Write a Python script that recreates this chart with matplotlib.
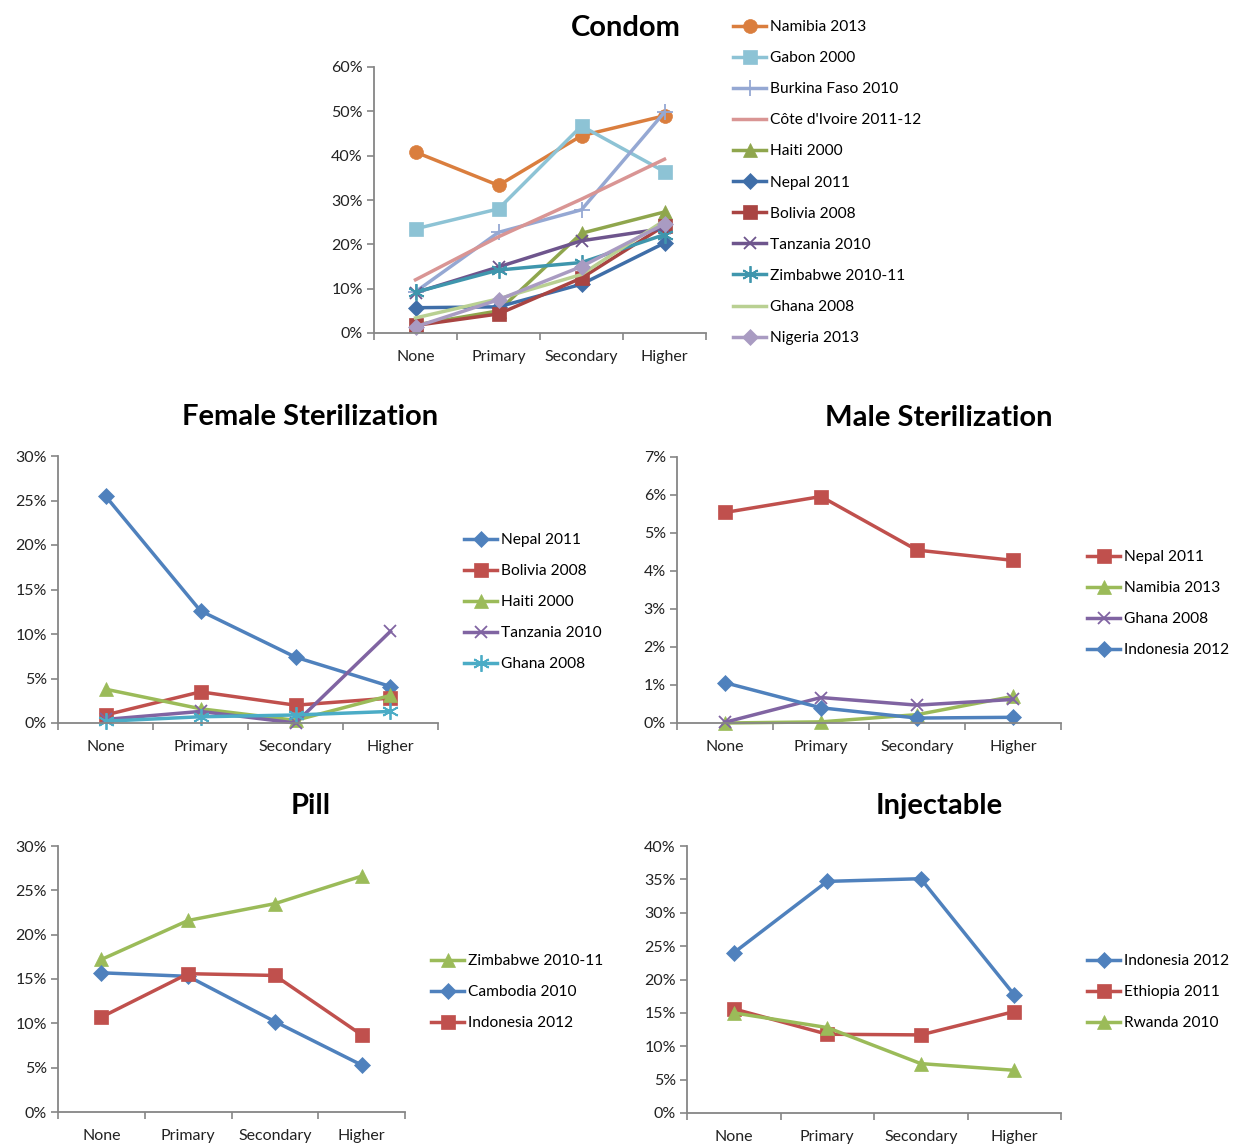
import matplotlib
matplotlib.use("Agg")
import matplotlib.pyplot as plt
from matplotlib.ticker import FuncFormatter, FixedLocator

plt.rcParams['font.family'] = ['Lato', 'DejaVu Sans']

categories = ["None", "Primary", "Secondary", "Higher"]

# Condom
condom_labels = ["Namibia 2013", "Gabon 2000", "Burkina Faso 2010", "Côte d'Ivoire 2011-12",
                 "Haiti 2000", "Nepal 2011", "Bolivia 2008", "Tanzania 2010",
                 "Zimbabwe 2010-11", "Ghana 2008", "Nigeria 2013"]
namibia_condom = [40.8, 33.3, 44.5, 49.0]
gabon_condom = [23.5, 28.0, 46.7, 36.4]
burkina_condom = [9.3, 22.7, 27.8, 49.8]
cote_condom = [12.0, 21.7, 30.2, 39.2]
haiti_condom = [1.8, 5.0, 22.5, 27.3]
nepal_condom = [5.7, 5.9, 11.0, 20.3]
bolivia_condom = [1.7, 4.3, 12.4, 24.2]
tanzania_condom = [9.1, 14.9, 20.8, 23.6]
zimbabwe_condom = [9.2, 14.2, 15.9, 22.2]
ghana_condom = [3.4, 7.7, 13.2, 25.4]
nigeria_condom = [1.4, 7.5, 15.0, 24.6]

# Female sterilization
fster_labels = ["Nepal 2011", "Bolivia 2008", "Haiti 2000", "Tanzania 2010", "Ghana 2008"]
nepal_fster = [25.5, 12.6, 7.4, 4.1]
bolivia_fster = [0.9, 3.5, 2.0, 2.8]
haiti_fster = [3.8, 1.6, 0.3, 3.1]
tanzania_fster = [0.4, 1.3, 0.0, 10.3]
ghana_fster = [0.2, 0.7, 0.9, 1.3]

# Male sterilization
mster_labels = ["Nepal 2011", "Namibia 2013", "Ghana 2008", "Indonesia 2012"]
nepal_mster = [5.54, 5.96, 4.55, 4.28]
namibia_mster = [0.0, 0.03, 0.22, 0.70]
ghana_mster = [0.02, 0.67, 0.47, 0.62]
indonesia_mster = [1.06, 0.40, 0.13, 0.15]

# Pill
pill_labels = ["Zimbabwe 2010-11", "Cambodia 2010", "Indonesia 2012"]
zimbabwe_pill = [17.2, 21.6, 23.5, 26.6]
cambodia_pill = [15.7, 15.3, 10.2, 5.3]
indonesia_pill = [10.7, 15.6, 15.4, 8.7]

# Injectable
inj_labels = ["Indonesia 2012", "Ethiopia 2011", "Rwanda 2010"]
indonesia_inj = [24.0, 34.7, 35.1, 17.7]
ethiopia_inj = [15.6, 11.8, 11.7, 15.2]
rwanda_inj = [15.0, 12.8, 7.4, 6.4]

W, H = 1234, 1146
fig = plt.figure(figsize=(W / 100, H / 100), dpi=100)

AXC = '#868686'
STAR = (6, 2, 0)


def make_ax(left, right, top, bottom):
    return fig.add_axes([left / W, 1 - bottom / H, (right - left) / W, (bottom - top) / H])


def style(ax, ymax, ystep, title, tx, ty):
    ax.set_xlim(-0.5, 3.5)
    ax.set_ylim(0, ymax)
    ax.set_xticks(range(4))
    ax.set_xticklabels(categories)
    ax.xaxis.set_minor_locator(FixedLocator([-0.5, 0.5, 1.5, 2.5, 3.5]))
    ax.tick_params(axis='x', which='major', length=0, pad=12, labelsize=11.5, colors='#222222')
    ax.tick_params(axis='x', which='minor', length=5, width=1.2, color=AXC)
    yt = [i * ystep for i in range(int(round(ymax / ystep)) + 1)]
    ax.set_yticks(yt)
    ax.yaxis.set_major_formatter(FuncFormatter(lambda v, p: f"{v:.0f}%"))
    ax.tick_params(axis='y', length=5, width=1.2, color=AXC, labelsize=11.5, pad=3, labelcolor='#222222')
    for s in ['top', 'right']:
        ax.spines[s].set_visible(False)
    for s in ['left', 'bottom']:
        ax.spines[s].set_color(AXC)
        ax.spines[s].set_linewidth(1.3)
    fig.text(tx / W, 1 - ty / H, title, ha='center', va='center', fontsize=21, fontweight='bold')


def plot_series(ax, series):
    handles = []
    for vals, lab, col, mk, ms in series:
        h, = ax.plot(range(4), vals, color=col, lw=2.5, marker=mk if mk else None,
                     markersize=ms, markeredgecolor=col, markerfacecolor=col,
                     markeredgewidth=1.3 if mk in ('+', 'x', STAR) else 0.5, label=lab,
                     clip_on=False)
        handles.append(h)
    return handles


def legend(ax, handles, x, y):
    fig.legend(handles=handles, loc='upper left', bbox_to_anchor=(x / W, 1 - y / H),
               frameon=False, fontsize=11.2, handlelength=2.15, handletextpad=0.2,
               labelspacing=1.1, borderaxespad=0, borderpad=0)


# Condom
ax1 = make_ax(374, 706, 67, 333)
style(ax1, 60, 10, "Condom", 626, 28)
cs = [
    (namibia_condom, condom_labels[0], '#DA7E3E', 'o', 10),
    (gabon_condom, condom_labels[1], '#8DC3D5', 's', 10),
    (burkina_condom, condom_labels[2], '#95A8D3', '+', 12),
    (cote_condom, condom_labels[3], '#D99594', None, 0),
    (haiti_condom, condom_labels[4], '#8FA64D', '^', 10),
    (nepal_condom, condom_labels[5], '#3F6EA8', 'D', 8),
    (bolivia_condom, condom_labels[6], '#A94442', 's', 10),
    (tanzania_condom, condom_labels[7], '#6E558D', 'x', 9),
    (zimbabwe_condom, condom_labels[8], '#3F96AD', STAR, 12),
    (ghana_condom, condom_labels[9], '#B9D092', None, 0),
    (nigeria_condom, condom_labels[10], '#A99BC2', 'D', 8),
]
h1 = plot_series(ax1, cs)
legend(ax1, h1, 733, 20)

# Female sterilization
ax2 = make_ax(58, 438, 456, 723)
style(ax2, 30, 5, "Female Sterilization", 310, 417)
fs = [
    (nepal_fster, fster_labels[0], '#4F81BD', 'D', 8),
    (bolivia_fster, fster_labels[1], '#C0504D', 's', 10),
    (haiti_fster, fster_labels[2], '#9BBB59', '^', 10),
    (tanzania_fster, fster_labels[3], '#8064A2', 'x', 9),
    (ghana_fster, fster_labels[4], '#4BACC6', STAR, 12),
]
h2 = plot_series(ax2, fs)
legend(ax2, h2, 464, 533)

# Male sterilization
ax3 = make_ax(677, 1061, 457, 723)
style(ax3, 7, 1, "Male Sterilization", 939, 418)
ms_ = [
    (nepal_mster, mster_labels[0], '#C0504D', 's', 10),
    (namibia_mster, mster_labels[1], '#9BBB59', '^', 10),
    (ghana_mster, mster_labels[2], '#8064A2', 'x', 9),
    (indonesia_mster, mster_labels[3], '#4F81BD', 'D', 8),
]
h3 = plot_series(ax3, ms_)
legend(ax3, h3, 1087, 550)

# Pill
ax4 = make_ax(58, 405, 846, 1112)
style(ax4, 30, 5, "Pill", 311, 806)
ps = [
    (zimbabwe_pill, pill_labels[0], '#9BBB59', '^', 10),
    (cambodia_pill, pill_labels[1], '#4F81BD', 'D', 8),
    (indonesia_pill, pill_labels[2], '#C0504D', 's', 10),
]
h4 = plot_series(ax4, ps)
legend(ax4, h4, 431, 954)

# Injectable
ax5 = make_ax(687, 1061, 846, 1113)
style(ax5, 40, 5, "Injectable", 939, 806)
ins = [
    (indonesia_inj, inj_labels[0], '#4F81BD', 'D', 8),
    (ethiopia_inj, inj_labels[1], '#C0504D', 's', 10),
    (rwanda_inj, inj_labels[2], '#9BBB59', '^', 10),
]
h5 = plot_series(ax5, ins)
legend(ax5, h5, 1087, 954)

fig.savefig("out.png", dpi=100, facecolor='white')
